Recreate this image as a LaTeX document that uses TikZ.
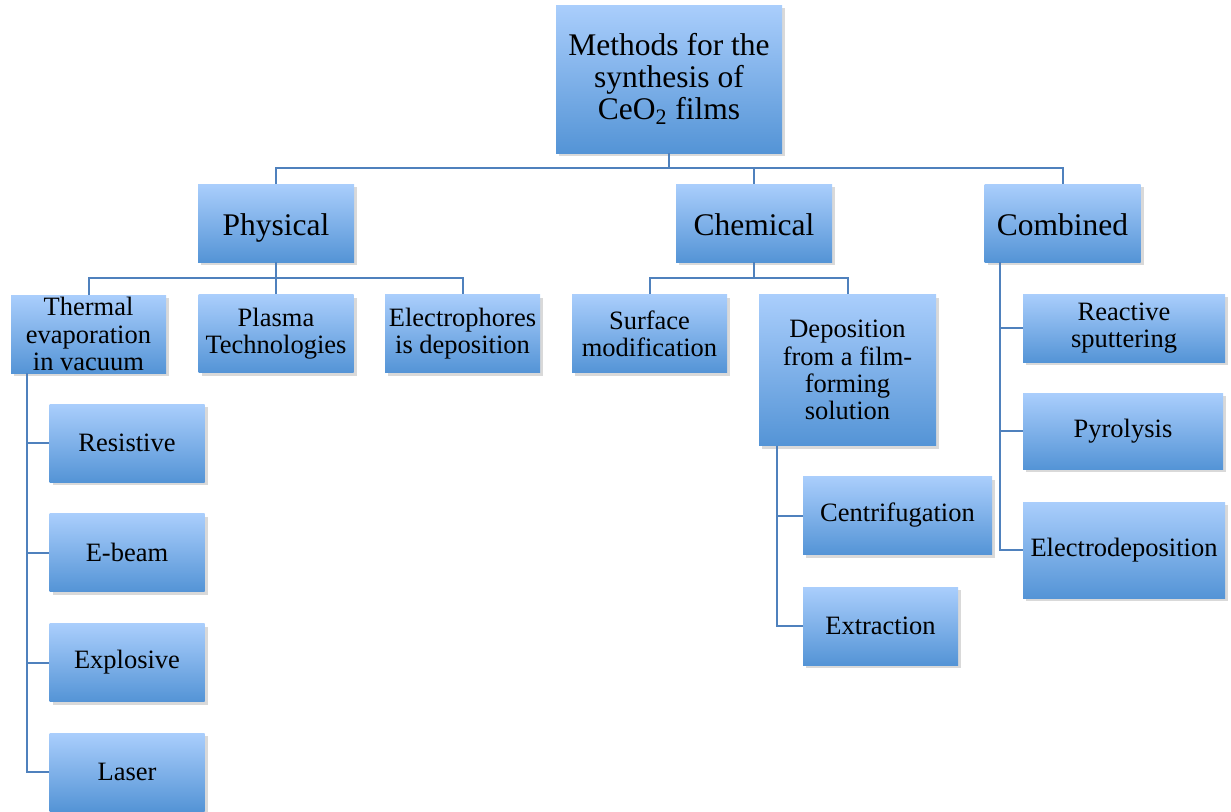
\documentclass[tikz,border=0pt]{standalone}
\usepackage{fontspec}
\setmainfont{Liberation Serif}
\usetikzlibrary{shadows}

\definecolor{boxtop}{RGB}{170,206,252}
\definecolor{boxbottom}{RGB}{84,148,214}
\definecolor{linkblue}{RGB}{79,129,189}

\begin{document}
\begin{tikzpicture}[
    x=0.5pt,
    y=-0.5pt,
    methodbox/.style={
        top color=boxtop,
        bottom color=boxbottom,
        drop shadow={
            shadow xshift=1.5pt,
            shadow yshift=-1.5pt,
            opacity=0.3
        },
        inner sep=0pt,
        align=center,
        font=\fontsize{13.25}{13.6}\selectfont
    },
    groupbox/.style={
        methodbox,
        minimum width=78pt,
        minimum height=39pt,
        font=\fontsize{15.75}{16}\selectfont
    },
    headbox/.style={
        groupbox,
        text height=12pt,
        text depth=0pt
    },
    leafbox/.style={
        methodbox,
        minimum width=77.5pt,
        minimum height=39pt
    },
    link/.style={draw=linkblue, line width=1pt}
]

\useasboundingbox (0,0) rectangle (1231,811);

% Root
\node[groupbox, minimum width=113pt, minimum height=74pt] (root) at (669,79)
    {Methods for the\\synthesis of\\CeO\textsubscript{2} films};

% Three groups
\node[headbox] (phys) at (276,223) {Physical};
\node[headbox] (chem) at (754,223) {Chemical};
\node[headbox] (comb) at (1062.5,223) {Combined};

% Physical methods
\node[leafbox] (thermal) at (88.5,334) {Thermal\\evaporation\\in vacuum};
\node[leafbox] (plasma) at (276,333.5) {Plasma\\Technologies};
\node[leafbox] (electro) at (462.5,333.5) {Electrophores\\is deposition};

\node[leafbox] (resist) at (127,443) {Resistive};
\node[leafbox] (ebeam) at (127,552.5) {E-beam};
\node[leafbox] (explos) at (127,662.5) {Explosive};
\node[leafbox] (laser) at (127,772) {Laser};

% Chemical methods
\node[leafbox] (surf) at (649.5,333.5) {Surface\\modification};
\node[leafbox, minimum width=88.5pt, minimum height=75.5pt] (depos) at (847.5,370)
    {Deposition\\from a film-\\forming\\solution};

\node[leafbox, minimum width=94.5pt] (centri) at (897.5,515.5) {Centrifugation};
\node[leafbox] (extract) at (880.5,626) {Extraction};

% Combined methods
\node[leafbox, minimum width=101pt, minimum height=34pt] (react) at (1124,328)
    {Reactive\\sputtering};
\node[leafbox, minimum width=100pt, minimum height=38pt] (pyro) at (1123,431)
    {Pyrolysis};
\node[leafbox, minimum width=101pt, minimum height=48pt] (edep) at (1124,550)
    {Electrodeposition};

% Buses
\coordinate (topbus) at (669,168);
\coordinate (physbus) at (276,278);
\coordinate (chembus) at (754,278);

\draw[link] (root.south) -- (topbus);
\draw[link] (phys.north) |- (topbus) -| (comb.north);
\draw[link] (chem.north) |- (topbus);

\draw[link] (phys.south) -- (plasma.north);
\draw[link] (thermal.north) |- (physbus) -| (electro.north);

\draw[link] (chem.south) -- (chembus);
\draw[link] (surf.north) |- (chembus) -| (depos.north);

% Side spines
\foreach \leaf in {resist,ebeam,explos,laser}
    \draw[link] ([xshift=8pt]thermal.south west) |- (\leaf.west);

\foreach \leaf in {centri,extract}
    \draw[link] ([xshift=9pt]depos.south west) |- (\leaf.west);

\foreach \leaf in {react,pyro,edep}
    \draw[link] ([xshift=8pt]comb.south west) |- (\leaf.west);

\end{tikzpicture}
\end{document}
